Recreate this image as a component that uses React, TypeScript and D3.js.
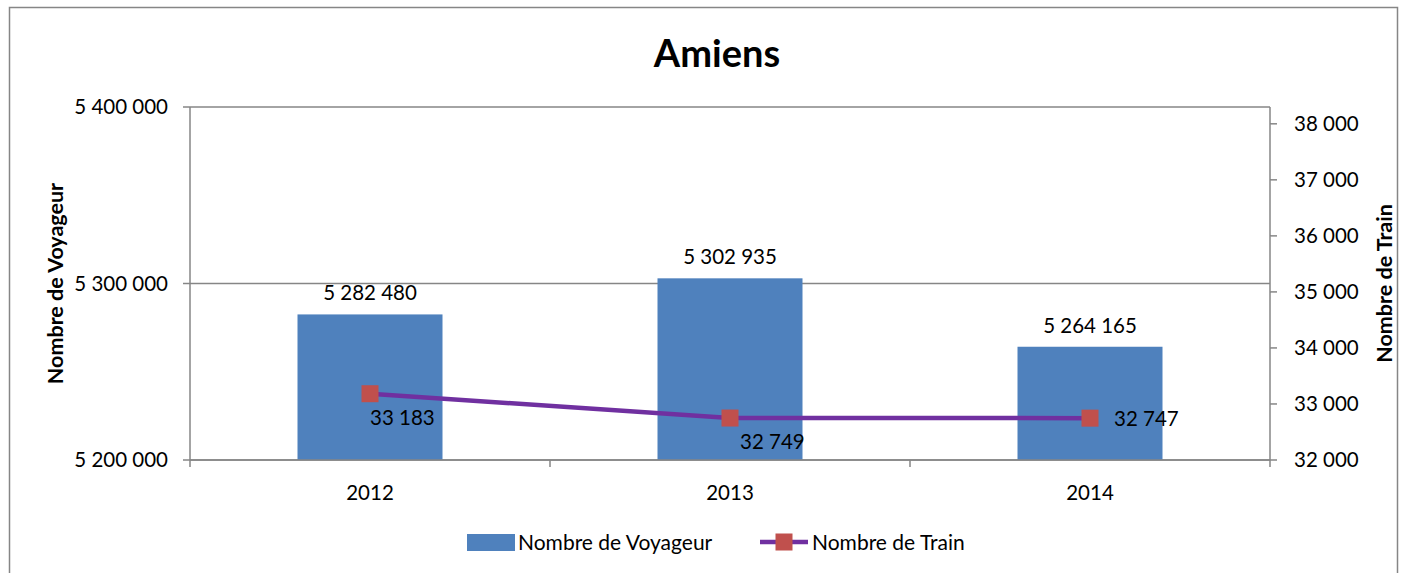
import * as d3 from "d3";
import { useRef, useEffect } from "react";

const years = ["2012", "2013", "2014"];
const voyageurs = [5282480, 5302935, 5264165];
const trains = [33183, 32749, 32747];
const leftTicks = [5200000, 5300000, 5400000];
const rightTicks = [32000, 33000, 34000, 35000, 36000, 37000, 38000];

const fmt = (v) => d3.format(",")(v).replace(/,/g, " ");

export default function App() {
  const ref = useRef();

  useEffect(() => {
    const width = 1405;
    const height = 573;
    const font = "Lato, 'Open Sans', sans-serif";
    const axisColor = "#868686";
    const fs = 20.5;

    const svg = d3.select(ref.current).attr("width", width).attr("height", height);
    svg.selectAll("*").remove();

    svg
      .append("rect")
      .attr("x", 9.5)
      .attr("y", 7.5)
      .attr("width", 1388)
      .attr("height", 600)
      .attr("fill", "white")
      .attr("stroke", axisColor)
      .attr("stroke-width", 1.5);

    const left = 190, right = 1270, top = 107, bottom = 460;

    const x = d3.scaleBand().domain(years).range([left, right]);
    const y = d3.scaleLinear().domain([5200000, 5400000]).range([bottom, top]);
    const y2 = d3.scaleLinear().domain([32000, 38300]).range([bottom, top]);

    svg
      .append("text")
      .attr("x", 717)
      .attr("y", 67)
      .attr("text-anchor", "middle")
      .attr("font-family", font)
      .attr("font-weight", "bold")
      .attr("font-size", 38)
      .text("Amiens");

    // grid
    svg
      .append("g")
      .selectAll("line")
      .data(leftTicks)
      .enter()
      .append("line")
      .attr("x1", left)
      .attr("x2", right)
      .attr("y1", (d) => y(d))
      .attr("y2", (d) => y(d))
      .attr("stroke", axisColor)
      .attr("stroke-width", 1.5);

    // bars
    const bw = 145;
    svg
      .append("g")
      .selectAll("rect")
      .data(voyageurs)
      .enter()
      .append("rect")
      .attr("x", (d, i) => x(years[i]) + x.bandwidth() / 2 - bw / 2)
      .attr("y", (d) => y(d))
      .attr("width", bw)
      .attr("height", (d) => bottom - y(d))
      .attr("fill", "#4F81BD");

    svg
      .append("g")
      .selectAll("text")
      .data(voyageurs)
      .enter()
      .append("text")
      .attr("x", (d, i) => x(years[i]) + x.bandwidth() / 2)
      .attr("y", (d) => y(d) - 14)
      .attr("text-anchor", "middle")
      .attr("font-family", font)
      .attr("font-size", fs)
      .text((d) => fmt(d));

    // axes
    const axes = svg.append("g").attr("stroke", axisColor).attr("stroke-width", 1.5);
    axes.append("line").attr("x1", left).attr("x2", left).attr("y1", top).attr("y2", bottom);
    axes.append("line").attr("x1", right).attr("x2", right).attr("y1", top).attr("y2", bottom);
    axes.append("line").attr("x1", left).attr("x2", right).attr("y1", bottom).attr("y2", bottom);
    leftTicks.forEach((t) =>
      axes.append("line").attr("x1", left - 7).attr("x2", left).attr("y1", y(t)).attr("y2", y(t))
    );
    rightTicks.forEach((t) =>
      axes.append("line").attr("x1", right).attr("x2", right + 7).attr("y1", y2(t)).attr("y2", y2(t))
    );
    [left, left + x.bandwidth(), left + 2 * x.bandwidth(), right].forEach((p) =>
      axes.append("line").attr("x1", p).attr("x2", p).attr("y1", bottom).attr("y2", bottom + 7)
    );

    svg
      .append("g")
      .selectAll("text")
      .data(leftTicks)
      .enter()
      .append("text")
      .attr("x", 168)
      .attr("y", (d) => y(d) + 7)
      .attr("text-anchor", "end")
      .attr("font-family", font)
      .attr("font-size", fs)
      .text((d) => fmt(d));

    svg
      .append("g")
      .selectAll("text")
      .data(rightTicks)
      .enter()
      .append("text")
      .attr("x", 1294)
      .attr("y", (d) => y2(d) + 7)
      .attr("font-family", font)
      .attr("font-size", fs)
      .text((d) => fmt(d));

    svg
      .append("g")
      .selectAll("text")
      .data(years)
      .enter()
      .append("text")
      .attr("x", (d) => x(d) + x.bandwidth() / 2)
      .attr("y", 500)
      .attr("text-anchor", "middle")
      .attr("font-family", font)
      .attr("font-size", fs)
      .text((d) => d);

    svg
      .append("text")
      .attr("transform", "translate(63," + (top + bottom) / 2 + ") rotate(-90)")
      .attr("text-anchor", "middle")
      .attr("font-family", font)
      .attr("font-weight", "bold")
      .attr("font-size", 21.5)
      .text("Nombre de Voyageur");

    svg
      .append("text")
      .attr("transform", "translate(1392," + (top + bottom) / 2 + ") rotate(-90)")
      .attr("text-anchor", "middle")
      .attr("font-family", font)
      .attr("font-weight", "bold")
      .attr("font-size", 21.5)
      .text("Nombre de Train");

    // line
    const line = d3
      .line()
      .x((d, i) => x(years[i]) + x.bandwidth() / 2)
      .y((d) => y2(d));

    svg
      .append("path")
      .datum(trains)
      .attr("d", line)
      .attr("fill", "none")
      .attr("stroke", "#7030A0")
      .attr("stroke-width", 4.5);

    svg
      .append("g")
      .selectAll("rect")
      .data(trains)
      .enter()
      .append("rect")
      .attr("x", (d, i) => x(years[i]) + x.bandwidth() / 2 - 8.5)
      .attr("y", (d) => y2(d) - 8.5)
      .attr("width", 17)
      .attr("height", 17)
      .attr("fill", "#C0504D");

    const lblOff = [
      [0, 31],
      [10, 31],
      [24, 8],
    ];
    svg
      .append("g")
      .selectAll("text")
      .data(trains)
      .enter()
      .append("text")
      .attr("x", (d, i) => x(years[i]) + x.bandwidth() / 2 + lblOff[i][0])
      .attr("y", (d, i) => y2(d) + lblOff[i][1])
      .attr("font-family", font)
      .attr("font-size", fs)
      .text((d) => fmt(d));

    // legend
    const lg = svg.append("g");
    lg.append("rect").attr("x", 467).attr("y", 534).attr("width", 48).attr("height", 17).attr("fill", "#4F81BD");
    lg.append("text").attr("x", 518).attr("y", 550).attr("font-family", font).attr("font-size", 21).text("Nombre de Voyageur");
    lg.append("line").attr("x1", 760).attr("x2", 808).attr("y1", 542).attr("y2", 542).attr("stroke", "#7030A0").attr("stroke-width", 4.5);
    lg.append("rect").attr("x", 775.5).attr("y", 533.5).attr("width", 17).attr("height", 17).attr("fill", "#C0504D");
    lg.append("text").attr("x", 812).attr("y", 550).attr("font-family", font).attr("font-size", 21).text("Nombre de Train");
  }, []);

  return <svg ref={ref} style={{ position: "absolute", left: 0, top: 0 }}></svg>;
}
